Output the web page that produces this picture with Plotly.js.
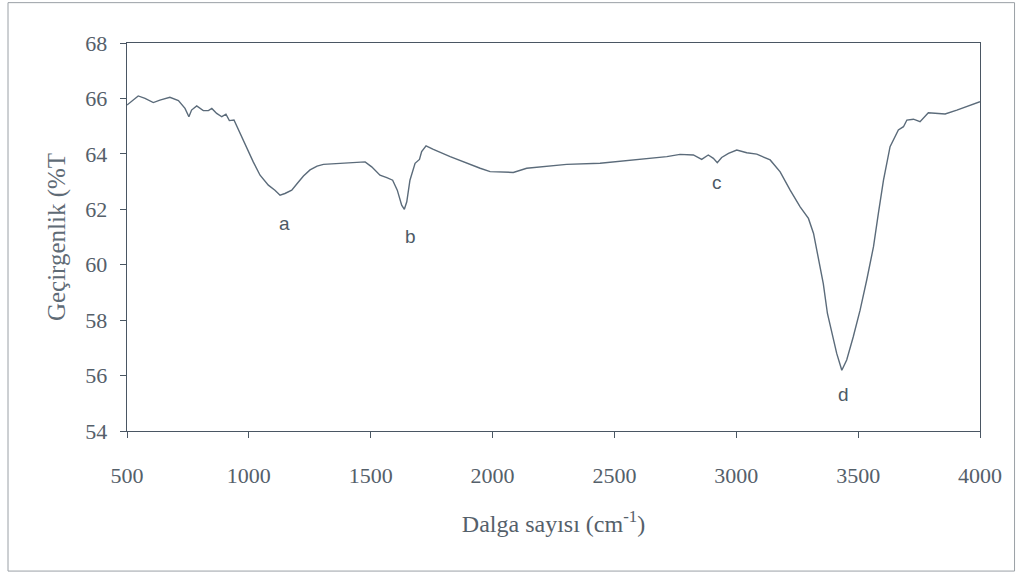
<!DOCTYPE html>
<html>
<head>
<meta charset="utf-8">
<script src="https://cdn.plot.ly/plotly-3.0.1.min.js"></script>
<style>html,body{margin:0;padding:0;background:#fff;}#chart{width:1020px;height:576px;}</style>
</head>
<body>
<div id="chart"></div>
<script>
const wavenumber = [500,520,546,574,608,635,676,711,738,754,765,786,813,834,848,868,889,906,920,939,964,991,1018,1046,1080,1107,1128,1148,1176,1200,1224,1251,1280,1306,1367,1420,1477,1504,1538,1566,1590,1609,1627,1638,1648,1661,1682,1700,1709,1727,1757,1826,1894,1949,1990,2028,2085,2140,2222,2304,2441,2537,2633,2715,2769,2824,2858,2885,2906,2922,2940,2968,3002,3043,3084,3139,3180,3221,3262,3296,3317,3337,3357,3374,3392,3412,3433,3453,3480,3508,3535,3563,3583,3604,3631,3645,3665,3686,3700,3727,3754,3788,3823,3857,3905,3959,4000];
const transmittance = [65.76,65.9,66.09,66.0,65.85,65.94,66.04,65.92,65.64,65.34,65.58,65.73,65.56,65.56,65.64,65.46,65.34,65.43,65.2,65.22,64.74,64.26,63.71,63.23,62.87,62.69,62.51,62.57,62.69,62.95,63.2,63.42,63.56,63.62,63.66,63.68,63.71,63.53,63.23,63.14,63.05,62.69,62.15,62.0,62.27,63.05,63.66,63.8,64.08,64.29,64.16,63.9,63.66,63.48,63.36,63.34,63.33,63.48,63.56,63.62,63.66,63.75,63.84,63.9,63.98,63.96,63.8,63.96,63.84,63.68,63.87,64.02,64.14,64.04,63.99,63.78,63.35,62.69,62.09,61.67,61.13,60.29,59.32,58.24,57.52,56.8,56.19,56.56,57.4,58.36,59.44,60.65,61.85,63.05,64.26,64.5,64.86,64.98,65.22,65.25,65.16,65.48,65.46,65.44,65.58,65.76,65.88];
const peakLabels = ["a","b","c","d"];
const peakX = [1148,1665,2921,3438];
const peakY = [61.5,61.03,62.95,55.33];
const xTicks = [500,1000,1500,2000,2500,3000,3500,4000];
const yTicks = [54,56,58,60,62,64,66,68];

const trace = {
  x: wavenumber, y: transmittance, type: 'scatter', mode: 'lines',
  line: {color: '#5b6b7a', width: 1.4}, hoverinfo: 'x+y'
};

const annotations = peakLabels.map((t, i) => ({
  x: peakX[i], y: peakY[i], xref: 'x', yref: 'y', text: t, showarrow: false,
  font: {family: 'Liberation Sans, Arial, sans-serif', size: 19, color: '#4d5a66'}
}));

const serif = 'Liberation Serif, Times New Roman, serif';
const tickFont = {family: serif, size: 22, color: '#55606a'};

const layout = {
  width: 1020, height: 576,
  margin: {l: 127, r: 40, t: 43, b: 145},
  paper_bgcolor: '#ffffff', plot_bgcolor: '#ffffff',
  showlegend: false,
  font: tickFont,
  xaxis: {
    range: [500, 4000], tickvals: xTicks, ticktext: xTicks.map(String),
    showgrid: false, zeroline: false, showline: true, mirror: true,
    linecolor: '#4a5663', linewidth: 1.3, ticks: 'outside', ticklen: 6, tickcolor: '#4a5663',
    tickfont: tickFont, ticklabelstandoff: 18,
    title: {text: 'Dalga sayısı (cm<sup>-1</sup>)', font: {family: serif, size: 24, color: '#55606a'}, standoff: 28},
    automargin: false
  },
  yaxis: {
    range: [54, 68], tickvals: yTicks, ticktext: yTicks.map(String),
    showgrid: false, zeroline: false, showline: true, mirror: true,
    linecolor: '#4a5663', linewidth: 1.3, ticks: 'outside', ticklen: 6, tickcolor: '#4a5663',
    tickfont: tickFont, ticklabelstandoff: 8,
    title: {text: 'Geçirgenlik (%T', font: {family: serif, size: 25, color: '#5f6b76'}, standoff: 12},
    automargin: false
  },
  annotations: annotations,
  shapes: [{
    type: 'rect', xref: 'paper', yref: 'paper',
    x0: -0.1395, x1: 1.0405, y0: -0.361, y1: 1.104,
    line: {color: '#9aa0a6', width: 1}, fillcolor: 'rgba(0,0,0,0)', layer: 'below'
  }]
};

Plotly.newPlot('chart', [trace], layout, {displayModeBar: false, staticPlot: true});
</script>
</body>
</html>
